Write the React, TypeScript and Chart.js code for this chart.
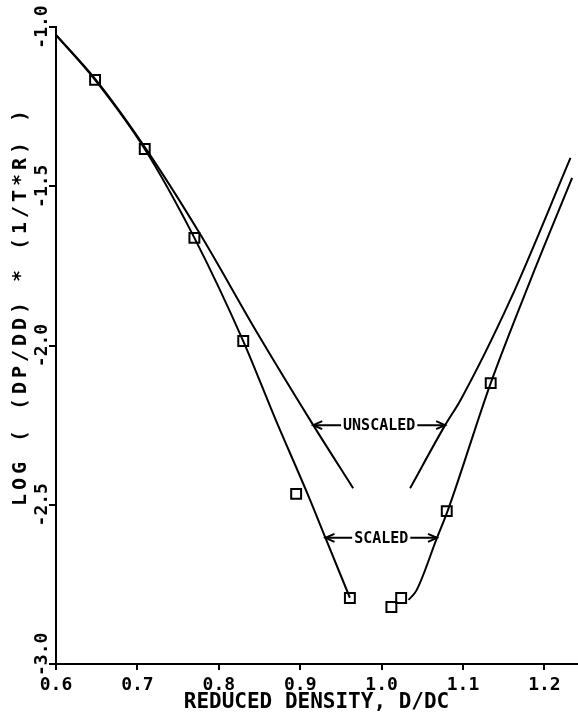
import React, { useEffect, useRef } from "react";
import { Chart, registerables } from "chart.js";

Chart.register(...registerables);

// ---- data ----
const xTickValues = [0.6, 0.7, 0.8, 0.9, 1.0, 1.1, 1.2];
const yTickValues = [-3.0, -2.5, -2.0, -1.5, -1.0];
const yTickLabels = ["-3.0", "-2.5", "-2.0", "-1.5", "-1.0"];

const xTitle = "REDUCED DENSITY, D/DC";
const yTitle = "LOG ( (DP/DD) * (1/T*R) )";

// scaled curve, left branch
const scaledLeftX = [0.6, 0.648, 0.709, 0.770, 0.830, 0.869, 0.909, 0.931, 0.961];
const scaledLeftY = [-1.025, -1.166, -1.383, -1.662, -1.986, -2.228, -2.466, -2.604, -2.792];
// scaled curve, right branch
const scaledRightX = [1.033, 1.043, 1.068, 1.081, 1.134, 1.183, 1.234];
const scaledRightY = [-2.799, -2.768, -2.604, -2.520, -2.118, -1.794, -1.474];
// unscaled curve, left branch
const unscaledLeftX = [0.6, 0.648, 0.709, 0.777, 0.848, 0.916, 0.965];
const unscaledLeftY = [-1.025, -1.163, -1.377, -1.650, -1.964, -2.250, -2.448];
// unscaled curve, right branch
const unscaledRightX = [1.035, 1.078, 1.097, 1.158, 1.232];
const unscaledRightY = [-2.448, -2.250, -2.171, -1.857, -1.411];

// experimental points (squares)
const pointsX = [0.648, 0.709, 0.770, 0.830, 0.895, 0.961, 1.012, 1.024, 1.080, 1.134];
const pointsY = [-1.166, -1.383, -1.662, -1.986, -2.466, -2.793, -2.821, -2.793, -2.520, -2.118];

// annotations
const annotText = ["UNSCALED", "SCALED"];
const annotY = [-2.25, -2.604];
const annotLeftX = [0.916, 0.931];
const annotRightX = [1.078, 1.068];

const FONT = '"DejaVu Sans Mono", monospace';

const toXY = (xs: number[], ys: number[]) => xs.map((x, i) => ({ x, y: ys[i] }));

const curve = (xs: number[], ys: number[]) => ({
  type: "line" as const,
  data: toXY(xs, ys),
  borderColor: "#000",
  borderWidth: 2,
  pointRadius: 0,
  fill: false,
  cubicInterpolationMode: "monotone" as const,
});

const overlayPlugin = {
  id: "overlay",
  afterDraw(chart: any) {
    const ctx = chart.ctx;
    const xs = chart.scales.x;
    const ys = chart.scales.y;
    ctx.save();
    ctx.fillStyle = "#000";
    ctx.strokeStyle = "#000";

    // rotated y tick labels (kept clear of the x tick labels)
    ctx.font = `bold 18px ${FONT}`;
    ctx.textAlign = "center";
    ctx.textBaseline = "alphabetic";
    yTickValues.forEach((v, i) => {
      let py = ys.getPixelForValue(v);
      const w = ctx.measureText(yTickLabels[i]).width;
      if (py + w / 2 > ys.bottom + 12) py = ys.bottom + 12 - w / 2;
      ctx.save();
      ctx.translate(47, py);
      ctx.rotate(-Math.PI / 2);
      ctx.fillText(yTickLabels[i], 0, 0);
      ctx.restore();
    });

    // y title, spaced characters
    ctx.font = `bold 20px ${FONT}`;
    const chars = yTitle.split("");
    const adv = 16;
    const total = adv * chars.length;
    ctx.save();
    ctx.translate(26, 308);
    ctx.rotate(-Math.PI / 2);
    chars.forEach((ch, i) => {
      ctx.fillText(ch, -total / 2 + adv * i + adv / 2, 0);
    });
    ctx.restore();

    // annotations with double arrows
    ctx.font = `bold 15px ${FONT}`;
    ctx.lineWidth = 2;
    annotText.forEach((t, i) => {
      const py = ys.getPixelForValue(annotY[i]);
      const xl = xs.getPixelForValue(annotLeftX[i]);
      const xr = xs.getPixelForValue(annotRightX[i]);
      const xc = (xl + xr) / 2;
      const w = ctx.measureText(t).width;
      ctx.textBaseline = "middle";
      ctx.fillText(t, xc, py + 1);
      const gap = 2;
      ctx.beginPath();
      ctx.moveTo(xl, py);
      ctx.lineTo(xc - w / 2 - gap, py);
      ctx.moveTo(xc + w / 2 + gap, py);
      ctx.lineTo(xr, py);
      ctx.stroke();
      const ah = 9;
      const aw = 4;
      ctx.beginPath();
      ctx.moveTo(xl + ah, py - aw);
      ctx.lineTo(xl, py);
      ctx.lineTo(xl + ah, py + aw);
      ctx.moveTo(xr - ah, py - aw);
      ctx.lineTo(xr, py);
      ctx.lineTo(xr - ah, py + aw);
      ctx.stroke();
    });
    ctx.restore();
  },
};

export default function App() {
  const ref = useRef<HTMLCanvasElement | null>(null);
  useEffect(() => {
    if (!ref.current) return;
    const chart = new Chart(ref.current, {
      type: "line",
      data: {
        datasets: [
          curve(scaledLeftX, scaledLeftY),
          curve(scaledRightX, scaledRightY),
          curve(unscaledLeftX, unscaledLeftY),
          curve(unscaledRightX, unscaledRightY),
          {
            type: "line",
            data: toXY(pointsX, pointsY),
            showLine: false,
            pointStyle: "rect",
            pointRadius: 7,
            pointBorderWidth: 2,
            pointBorderColor: "#000",
            pointBackgroundColor: "rgba(0,0,0,0)",
          } as any,
        ],
      },
      options: {
        animation: false,
        responsive: false,
        layout: { autoPadding: false, padding: { top: 27, right: 1, left: 0, bottom: 0 } },
        plugins: { legend: { display: false }, tooltip: { enabled: false } },
        scales: {
          x: {
            type: "linear",
            min: 0.6,
            max: 1.24,
            afterBuildTicks: (s: any) => {
              s.ticks = xTickValues.map((v) => ({ value: v }));
            },
            afterFit: (s: any) => {
              s.height = 53;
              s.paddingLeft = 0;
              s.paddingRight = 0;
            },
            ticks: {
              color: "#000",
              font: { family: FONT, size: 18, weight: "bold" },
              padding: 5,
              maxRotation: 0,
              callback: (v: any) => Number(v).toFixed(1),
            },
            grid: { drawOnChartArea: false, color: "#000", lineWidth: 2, tickLength: 6 },
            border: { display: true, color: "#000", width: 2 },
            title: {
              display: true,
              text: xTitle,
              color: "#000",
              font: { family: FONT, size: 21, weight: "bold" },
              padding: { top: 0, bottom: 2 },
            },
          },
          y: {
            type: "linear",
            min: -3.0,
            max: -1.0,
            afterBuildTicks: (s: any) => {
              s.ticks = yTickValues.map((v) => ({ value: v }));
            },
            afterFit: (s: any) => {
              s.width = 56;
              s.paddingTop = 0;
              s.paddingBottom = 0;
            },
            ticks: { display: false },
            grid: { drawOnChartArea: false, color: "#000", lineWidth: 2, tickLength: 7 },
            border: { display: true, color: "#000", width: 2 },
          },
        },
      },
      plugins: [overlayPlugin],
    });
    return () => chart.destroy();
  }, []);
  return (
    <div style={{ position: "absolute", left: 0, top: 0, width: 578, height: 717, background: "#fff" }}>
      <canvas ref={ref} width={578} height={717} style={{ display: "block" }} />
    </div>
  );
}
